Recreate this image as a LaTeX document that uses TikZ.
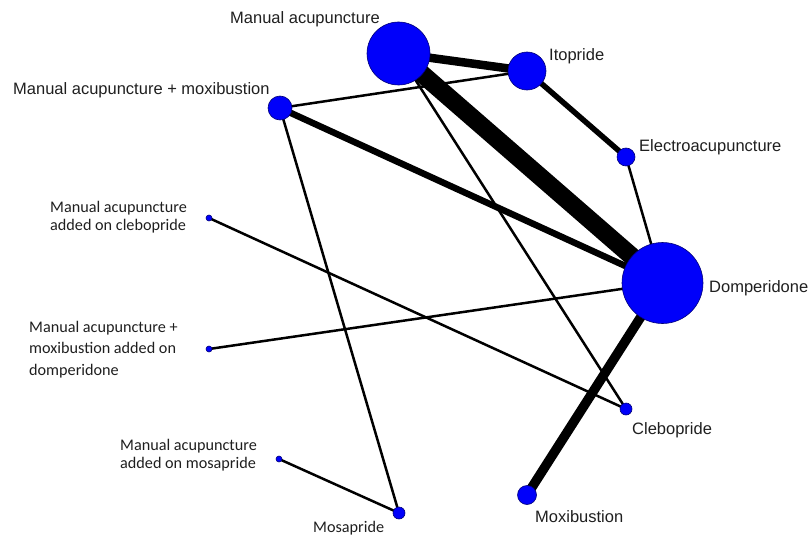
\documentclass[tikz,border=0pt]{standalone}
\usepackage{fontspec}
\setmainfont{Liberation Sans}
\newfontfamily\calib{Carlito}
\usetikzlibrary{backgrounds}
\begin{document}
\begin{tikzpicture}[x=1pt,y=-1pt,
  trt/.style={circle, fill={rgb,255:red,0;green,0;blue,250}, draw={rgb,255:red,0;green,0;blue,120}, line width=0.6pt, inner sep=0pt, minimum size=#1},
  lbl/.style={font=\fontsize{16.5}{19}\selectfont, text=black!88, inner sep=0pt, anchor=base west},
  clbl/.style={font=\calib\fontsize{16.2}{#1}\selectfont, text=black!88, inner sep=0pt, anchor=base west, align=left},
  link/.style={line width=#1, draw=black}]
\useasboundingbox (0,0) rectangle (808,535);
% treatments
\node[trt=63] (ma) at (398.5,53.5) {};
\node[trt=38] (ito) at (527,71) {};
\node[trt=24] (mam) at (280,108) {};
\node[trt=18] (ea) at (626,157) {};
\node[trt=6] (macl) at (209,218) {};
\node[trt=81] (dom) at (662.5,283) {};
\node[trt=6] (mamd) at (209,349) {};
\node[trt=12] (cle) at (626,409) {};
\node[trt=6] (mams) at (279,459) {};
\node[trt=19] (mox) at (527,495) {};
\node[trt=12] (mos) at (399,513) {};
% connectors
\begin{pgfonlayer}{background}
\draw[link=18] (ma.center) -- (dom.center);
\draw[link=8.5] (ma.center) -- (ito.center);
\draw[link=6.5] (mam.center) -- (dom.center);
\draw[link=5.5] (ito.center) -- (ea.center);
\draw[link=9.5] (dom.center) -- (mox.center);
\draw[link=2.5] (ma.center) -- (cle.center);
\draw[link=2.5] (mam.center) -- (ito.center);
\draw[link=2.5] (mam.center) -- (mos.center);
\draw[link=2.5] (ea.center) -- (dom.center);
\draw[link=2.5] (macl.center) -- (cle.center);
\draw[link=2.5] (mamd.center) -- (dom.center);
\draw[link=2.5] (mams.center) -- (mos.center);
\end{pgfonlayer}
% labels
\node[lbl] (lma) at (230,24) {Manual acupuncture};
\node[lbl] (lito) at (549,61) {Itopride};
\node[lbl] (lmam) at (13,94) {Manual acupuncture + moxibustion};
\node[lbl] (lea) at (639,151) {Electroacupuncture};
\node[lbl] (ldom) at (709,292) {Domperidone};
\node[lbl] (lcle) at (632,434) {Clebopride};
\node[lbl] (lmox) at (535,522) {Moxibustion};
\node[clbl=18] (lmos) at (313,532) {Mosapride};
\node[clbl=18] (lmacl) at (50,230) {Manual acupuncture\\added on clebopride};
\node[clbl=21.5] (lmamd) at (29,375) {Manual acupuncture +\\moxibustion added on\\domperidone};
\node[clbl=18] (lmams) at (120,468) {Manual acupuncture\\added on mosapride};
\end{tikzpicture}
\end{document}
